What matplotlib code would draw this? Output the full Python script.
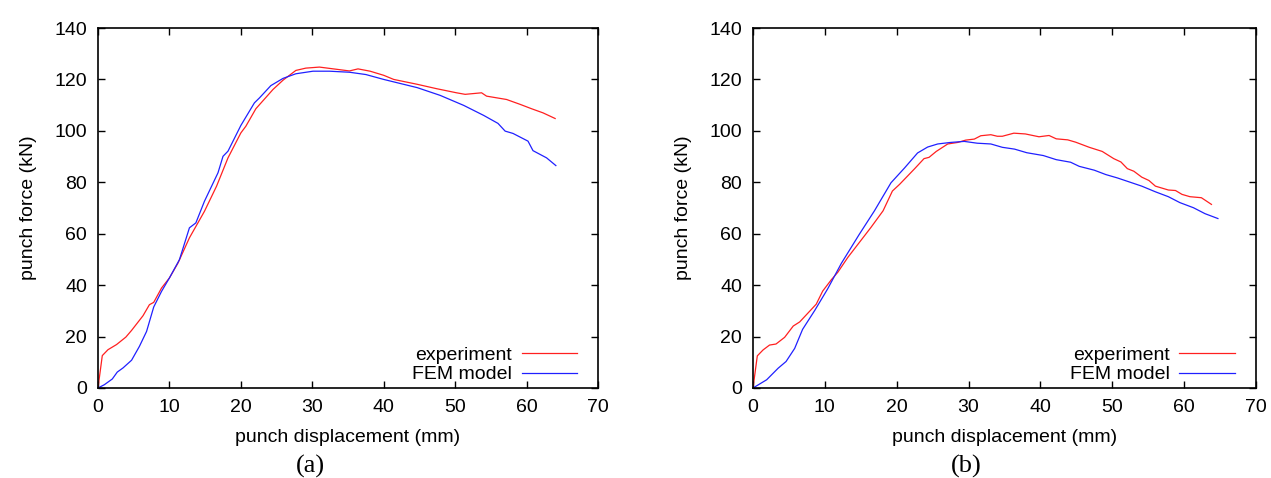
import numpy as np
import matplotlib
matplotlib.use('Agg')
import matplotlib.pyplot as plt

plt.rcParams['font.family'] = ['Liberation Sans', 'DejaVu Sans']

# panel (a)
exp_a_x = [0, 0.6, 1.4, 2.6, 3.9, 4.7, 6.3, 7.2, 7.8, 8.9, 10, 11.2, 12.8, 14.9, 16.6, 18.2,
           20, 20.7, 22.1, 24.5, 25.9, 27.7, 29.1, 31, 32.4, 35.2, 36.4, 38.1, 40, 41.4,
           44.7, 47.4, 50.2, 51.4, 53.7, 54.4, 57.2, 59.1, 60.7, 62.3, 64]
exp_a_y = [0, 12.6, 14.9, 16.9, 19.8, 22.4, 28.1, 32.4, 33.3, 38.9, 42.8, 48.6, 58.4, 68.7, 78.5, 89.5,
           99.2, 101.8, 108.6, 116.1, 119.7, 123.5, 124.4, 124.8, 124.3, 123.3, 124.1, 123.2, 121.6, 120,
           118.1, 116.4, 114.8, 114.2, 114.8, 113.5, 112.2, 110.3, 108.6, 107, 104.8]
fem_a_x = [0, 0.9, 2.0, 2.7, 3.5, 4.7, 5.8, 6.8, 7.8, 8.9, 10, 11.4, 12.8, 13.7, 14.9, 16.8,
           17.5, 18.2, 20, 21.9, 22.6, 24.2, 25.9, 27.7, 30.1, 32.4, 35.2, 37.5, 40,
           44.7, 47.9, 51.2, 54, 56, 57, 58.1, 60.2, 60.9, 62.8, 64.1]
fem_a_y = [0, 1.3, 3.5, 6.2, 7.8, 10.8, 16.2, 22, 31.5, 37.6, 42.8, 49.9, 62.3, 64.2, 72.6, 83.7,
           90.1, 92.1, 102.1, 110.9, 112.8, 117.6, 120.4, 122.2, 123.2, 123.2, 122.8, 121.9, 120,
           116.8, 113.8, 109.9, 106, 102.9, 99.9, 99, 96, 92.3, 89.5, 86.5]

# panel (b)
exp_b_x = [0, 0.6, 1.4, 2.3, 3.2, 4.4, 5.6, 6.5, 7.6, 8.8, 9.7, 10.9, 11.8, 13.2, 14.8, 16.4,
           18.1, 19.4, 20.4, 22.5, 23.8, 24.5, 25.5, 27.1, 28.5, 29.6, 30.8, 31.7, 33.1, 34,
           34.7, 36.3, 37.9, 39.8, 41.2, 42.2, 43.8, 44.9, 46.8, 48.6, 50.2, 51.2, 52.1, 53,
           54.1, 55.1, 56, 57.8, 58.8, 59.7, 60.8, 62.4, 63.8]
exp_b_y = [0, 12.5, 14.8, 16.7, 17.1, 19.7, 24.1, 25.7, 29, 32.6, 37.7, 42.1, 45, 50.8, 56.6, 62.4,
           68.9, 76.6, 79.2, 85.3, 89.2, 89.7, 92, 94.9, 95.5, 96.4, 96.8, 98.1, 98.5, 97.9,
           97.9, 99.1, 98.8, 97.7, 98.2, 96.9, 96.5, 95.6, 93.6, 92, 89.2, 87.9, 85.3, 84.3,
           82, 80.7, 78.5, 77, 76.8, 75.3, 74.4, 74, 71.4]
fem_b_x = [0, 1.9, 3.5, 4.6, 5.8, 6.9, 8.6, 10.4, 12.3, 14.8, 16.9, 19.2, 21.1, 22.9, 24.3,
           25.7, 27.5, 29.4, 31.2, 33.1, 34.7, 36.4, 38.1, 40.4, 42.2, 44.2, 45.4, 47.5,
           49.1, 50.7, 52.3, 54.1, 56, 57.8, 59.4, 61.3, 62.9, 64.7]
fem_b_y = [0, 3.2, 7.7, 10.3, 15.4, 22.8, 30.2, 38.6, 48.5, 59.8, 68.9, 79.8, 85.6, 91.4, 93.7,
           94.9, 95.5, 95.9, 95.2, 94.9, 93.6, 92.9, 91.5, 90.4, 88.8, 87.8, 86.2, 84.7,
           83, 81.7, 80.2, 78.5, 76.3, 74.4, 72.1, 70.1, 67.8, 65.9]

xticks = [0, 10, 20, 30, 40, 50, 60, 70]
yticks = [0, 20, 40, 60, 80, 100, 120, 140]
captions = ['(a)', '(b)']

fig = plt.figure(figsize=(12.71, 4.78), dpi=100)
ax_a = fig.add_axes([98 / 1271, 1 - 388 / 478, 500 / 1271, 360 / 478])
ax_b = fig.add_axes([753 / 1271, 1 - 388 / 478, 503 / 1271, 360 / 478])

panels = [(ax_a, exp_a_x, exp_a_y, fem_a_x, fem_a_y),
          (ax_b, exp_b_x, exp_b_y, fem_b_x, fem_b_y)]

for i, (ax, ex, ey, fx, fy) in enumerate(panels):
    ax.plot(ex, ey, color='#ff2020', lw=0.9, label='experiment')
    ax.plot(fx, fy, color='#2020ff', lw=0.9, label='FEM model')
    ax.set_xlim(0, 70)
    ax.set_ylim(0, 140)
    ax.set_xticks(xticks)
    ax.set_yticks(yticks)
    ax.tick_params(direction='in', top=True, right=True, length=5, width=1,
                   labelsize=14, pad=8)
    for s in ax.spines.values():
        s.set_linewidth(1.2)
    ax.set_xlabel('punch displacement (mm)', fontsize=14, labelpad=9)
    ax.set_ylabel('punch force (kN)', fontsize=14, labelpad=12)
    ax.legend(loc='lower right', bbox_to_anchor=(0.958, 0.013), frameon=False,
              markerfirst=False, fontsize=14, handlelength=2.85, borderaxespad=0,
              labelspacing=0.08, handletextpad=0.5, borderpad=0)
    ax.text(0.424, -0.218, captions[i], transform=ax.transAxes, ha='center', va='center',
            fontsize=19, family=['Liberation Serif', 'DejaVu Serif'])

fig.savefig('out.png', dpi=100)
